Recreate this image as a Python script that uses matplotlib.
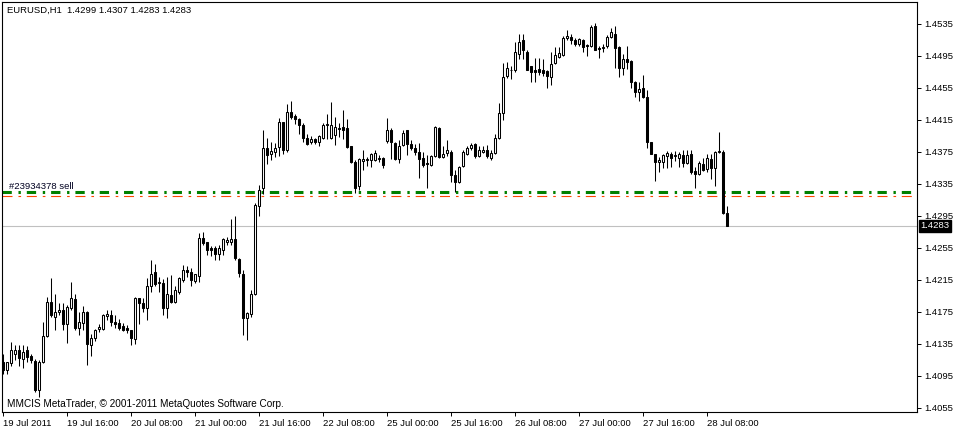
import matplotlib
matplotlib.use('Agg')
import matplotlib.pyplot as plt
import numpy as np

plt.rcParams['font.family'] = ['Liberation Sans', 'DejaVu Sans']
plt.rcParams['lines.scale_dashes'] = False

# EURUSD H1 quotes, in points (1 point = 0.0001)
open_pts = [14113, 14103, 14111, 14123, 14127, 14116, 14127, 14120, 14114, 14078,
            14112, 14145, 14187, 14169, 14175, 14178, 14160, 14180, 14191, 14155,
            14161, 14175, 14134, 14143, 14154, 14154, 14170, 14171, 14163, 14161,
            14157, 14155, 14152, 14141, 14192, 14186, 14180, 14208, 14225, 14211,
            14211, 14180, 14196, 14188, 14200, 14215, 14228, 14225, 14214, 14220,
            14268, 14262, 14255, 14255, 14248, 14253, 14263, 14262, 14266, 14241,
            14223, 14168, 14173, 14198, 14308, 14330, 14380, 14372, 14375, 14381,
            14412, 14377, 14425, 14420, 14416, 14409, 14392, 14387, 14391, 14387,
            14393, 14409, 14393, 14396, 14405, 14406, 14405, 14382, 14363, 14332,
            14364, 14365, 14365, 14365, 14366, 14368, 14389, 14403, 14386, 14366,
            14384, 14402, 14385, 14380, 14375, 14367, 14361, 14359, 14370, 14405,
            14369, 14374, 14375, 14346, 14337, 14357, 14373, 14380, 14385, 14370,
            14375, 14377, 14368, 14374, 14392, 14424, 14470, 14478, 14477, 14498,
            14515, 14500, 14482, 14477, 14479, 14477, 14476, 14469, 14486, 14494,
            14496, 14517, 14519, 14515, 14510, 14515, 14509, 14507, 14532, 14505,
            14505, 14507, 14519, 14523, 14506, 14480, 14491, 14489, 14463, 14450,
            14455, 14444, 14387, 14372, 14362, 14363, 14370, 14372, 14370, 14368,
            14371, 14361, 14372, 14351, 14347, 14360, 14354, 14366, 14355, 14375,
            14375, 14299]
high_pts = [14123, 14113, 14137, 14134, 14134, 14134, 14132, 14123, 14116, 14115,
            14163, 14194, 14217, 14198, 14186, 14186, 14184, 14212, 14198, 14175,
            14182, 14176, 14148, 14154, 14160, 14172, 14178, 14177, 14171, 14166,
            14161, 14159, 14153, 14194, 14193, 14192, 14217, 14240, 14235, 14219,
            14216, 14219, 14221, 14207, 14219, 14234, 14233, 14230, 14223, 14274,
            14275, 14263, 14257, 14257, 14259, 14267, 14269, 14291, 14295, 14242,
            14228, 14175, 14203, 14311, 14334, 14402, 14392, 14388, 14386, 14417,
            14413, 14435, 14439, 14423, 14417, 14411, 14398, 14395, 14393, 14396,
            14411, 14423, 14438, 14419, 14411, 14428, 14416, 14383, 14365, 14367,
            14378, 14369, 14374, 14377, 14371, 14369, 14418, 14405, 14388, 14390,
            14403, 14403, 14390, 14385, 14386, 14375, 14371, 14371, 14407, 14406,
            14382, 14390, 14377, 14352, 14357, 14377, 14382, 14386, 14386, 14382,
            14382, 14384, 14377, 14398, 14436, 14486, 14487, 14482, 14512, 14522,
            14522, 14502, 14483, 14492, 14492, 14491, 14477, 14500, 14506, 14506,
            14520, 14527, 14522, 14517, 14517, 14516, 14510, 14534, 14536, 14507,
            14510, 14521, 14530, 14532, 14507, 14497, 14507, 14490, 14464, 14463,
            14471, 14453, 14388, 14373, 14369, 14372, 14376, 14375, 14376, 14375,
            14377, 14377, 14377, 14356, 14364, 14368, 14373, 14373, 14376, 14400,
            14377, 14307]
low_pts = [14098, 14097, 14107, 14115, 14107, 14105, 14113, 14111, 14075, 14069,
           14111, 14144, 14169, 14153, 14171, 14152, 14136, 14178, 14153, 14146,
           14153, 14109, 14120, 14139, 14150, 14153, 14165, 14157, 14155, 14153,
           14151, 14149, 14134, 14135, 14160, 14175, 14165, 14200, 14207, 14200,
           14171, 14168, 14186, 14186, 14198, 14213, 14219, 14207, 14211, 14213,
           14259, 14246, 14245, 14240, 14240, 14246, 14259, 14259, 14240, 14219,
           14146, 14140, 14169, 14196, 14295, 14322, 14360, 14365, 14369, 14370,
           14372, 14375, 14416, 14410, 14398, 14388, 14384, 14385, 14385, 14382,
           14391, 14391, 14391, 14384, 14394, 14391, 14380, 14361, 14324, 14328,
           14353, 14358, 14356, 14364, 14362, 14355, 14386, 14366, 14365, 14361,
           14382, 14371, 14377, 14371, 14343, 14356, 14330, 14358, 14369, 14368,
           14368, 14370, 14338, 14325, 14336, 14356, 14371, 14377, 14368, 14369,
           14374, 14368, 14365, 14373, 14391, 14415, 14467, 14466, 14475, 14491,
           14491, 14477, 14462, 14463, 14471, 14470, 14455, 14459, 14485, 14493,
           14495, 14515, 14510, 14507, 14507, 14500, 14495, 14506, 14502, 14492,
           14500, 14505, 14518, 14480, 14469, 14471, 14479, 14455, 14444, 14439,
           14443, 14380, 14372, 14339, 14350, 14355, 14355, 14356, 14364, 14356,
           14356, 14360, 14348, 14330, 14346, 14351, 14350, 14341, 14332, 14374,
           14298, 14283]
close_pts = [14103, 14112, 14127, 14127, 14117, 14125, 14119, 14115, 14078, 14113,
             14145, 14188, 14171, 14175, 14178, 14160, 14181, 14192, 14155, 14162,
             14175, 14135, 14142, 14153, 14156, 14171, 14172, 14163, 14160, 14155,
             14153, 14152, 14142, 14192, 14186, 14180, 14208, 14223, 14210, 14213,
             14180, 14197, 14188, 14203, 14217, 14228, 14225, 14215, 14222, 14268,
             14261, 14252, 14253, 14248, 14255, 14266, 14265, 14266, 14242, 14224,
             14167, 14174, 14198, 14309, 14328, 14380, 14371, 14376, 14380, 14412,
             14378, 14425, 14419, 14416, 14409, 14393, 14385, 14391, 14388, 14395,
             14409, 14410, 14409, 14406, 14404, 14403, 14381, 14363, 14330, 14366,
             14366, 14366, 14373, 14374, 14367, 14359, 14403, 14387, 14366, 14383,
             14399, 14385, 14380, 14375, 14366, 14359, 14360, 14370, 14406, 14369,
             14373, 14378, 14346, 14337, 14356, 14375, 14380, 14384, 14370, 14377,
             14378, 14370, 14374, 14392, 14424, 14469, 14480, 14477, 14500, 14513,
             14502, 14478, 14475, 14475, 14475, 14474, 14470, 14485, 14496, 14499,
             14518, 14520, 14515, 14510, 14516, 14506, 14507, 14531, 14503, 14504,
             14506, 14519, 14525, 14505, 14480, 14491, 14487, 14463, 14450, 14454,
             14444, 14387, 14373, 14363, 14365, 14371, 14374, 14368, 14371, 14372,
             14361, 14371, 14350, 14348, 14361, 14352, 14367, 14355, 14375, 14376,
             14299, 14283]

time_labels = ['19 Jul 2011', '19 Jul 16:00', '20 Jul 08:00', '21 Jul 00:00',
               '21 Jul 16:00', '22 Jul 08:00', '25 Jul 00:00', '25 Jul 16:00',
               '26 Jul 08:00', '27 Jul 00:00', '27 Jul 16:00', '28 Jul 08:00']
time_label_bars = [0, 16, 32, 48, 64, 80, 96, 112, 128, 144, 160, 176]
price_ticks = [1.4055, 1.4095, 1.4135, 1.4175, 1.4215, 1.4255, 1.4295,
               1.4335, 1.4375, 1.4415, 1.4455, 1.4495, 1.4535]

bid = 1.4283
order_level = 1.4325   # green dash-dot
order_level2 = 1.4320  # orange dash-dot
order_label = '#23934378 sell'
header = 'EURUSD,H1  1.4299 1.4307 1.4283 1.4283'
footer = 'MMCIS MetaTrader, \u00a9 2001-2011 MetaQuotes Software Corp.'

o = np.array(open_pts) / 10000
h = np.array(high_pts) / 10000
l = np.array(low_pts) / 10000
c = np.array(close_pts) / 10000
x = np.arange(len(o))

W, H = 955, 429
fig = plt.figure(figsize=(W / 100, H / 100), dpi=100)
ax = fig.add_axes([2 / W, 17 / H, 915 / W, 410 / H])
ax.set_xlim(-0.325, -0.325 + 915 / 4)
ax.set_ylim(1.4565 - 412 / 8000, 1.4565 - 2 / 8000)

# order lines and bid line
ax.axhline(order_level, color='#008000', lw=2.2, linestyle=(0, (6.7, 4.8, 1.7, 4.3)), zorder=1)
ax.axhline(order_level2, color='#ff4500', lw=0.8, linestyle=(0, (7.2, 4.3, 1.9, 4.1)), zorder=1)
ax.axhline(bid, color='#c0c0c0', lw=0.8, zorder=1)

# candles
ax.vlines(x, l, h, color='black', lw=0.75, zorder=2)
bull = c >= o
body_lo = np.minimum(o, c)
body_h = np.maximum(np.abs(c - o), 0.00002)
ax.bar(x, body_h, bottom=body_lo, width=0.5,
       color=np.where(bull, 'white', 'black'), edgecolor='black', lw=0.75, zorder=3)

# axes look
for s in ax.spines.values():
    s.set_linewidth(0.8)
ax.yaxis.tick_right()
ax.set_yticks(price_ticks)
ax.set_yticklabels(['%.4f' % p for p in price_ticks])
ax.tick_params(axis='y', length=3, width=0.7, pad=2, labelsize=6.8)
ax.set_xticks(time_label_bars)
ax.set_xticklabels(time_labels, ha='left')
ax.tick_params(axis='x', length=3, width=0.7, pad=2, labelsize=6.8)

# bid price label
ax.annotate('%.4f' % bid, xy=(1, bid), xycoords=('axes fraction', 'data'),
            xytext=(2.5, 0), textcoords='offset points', ha='left', va='center',
            fontsize=6.8, color='white',
            bbox=dict(boxstyle='square,pad=0.15', fc='black', ec='black'))

ax.text(7 / 915, 1.4565 - 187 / 8000, order_label, transform=ax.get_yaxis_transform(),
        fontsize=6.8, color='#000020', va='center')
fig.text(7 / W, 1 - 10 / H, header, fontsize=6.8, va='center')
fig.text(7 / W, 1 - 404 / H, footer, fontsize=7.2, va='center')

fig.savefig('out.png', dpi=100)
